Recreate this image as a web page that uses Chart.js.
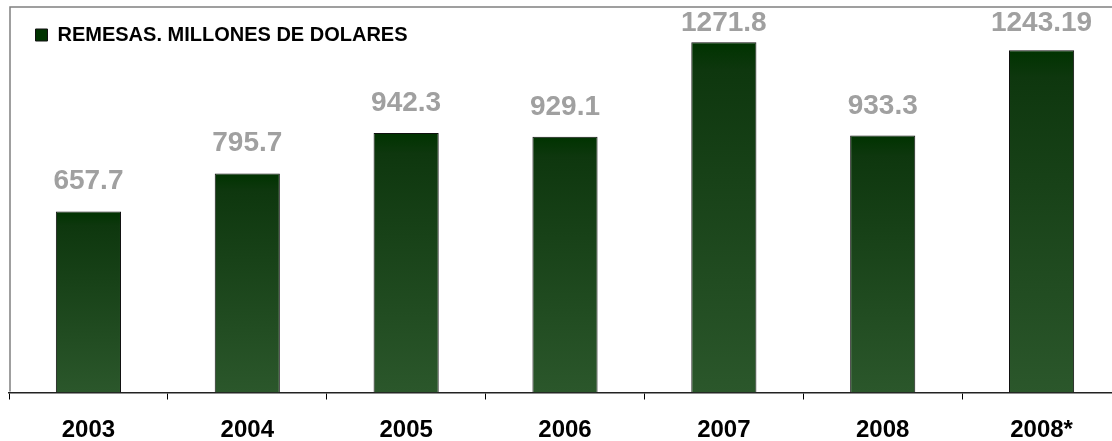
<!DOCTYPE html>
<html>
<head>
<meta charset="utf-8">
<script src="https://cdn.jsdelivr.net/npm/chart.js@4.4.1/dist/chart.umd.min.js"></script>
<style>
  html, body { margin: 0; padding: 0; background: #fff; overflow: hidden; }
  #wrap { position: relative; width: 1121px; height: 441px; }
</style>
</head>
<body>
<div id="wrap"><canvas id="c"></canvas></div>
<script>
const categories = ['2003', '2004', '2005', '2006', '2007', '2008', '2008*'];
const remesas = [657.7, 795.7, 942.3, 929.1, 1271.8, 933.3, 1243.19];
const valueLabels = ['657.7', '795.7', '942.3', '929.1', '1271.8', '933.3', '1243.19'];
const seriesName = 'REMESAS. MILLONES DE DOLARES';
const yMax = 1400;

const FONT = '"Liberation Sans", Arial, sans-serif';

function barFill(c) {
  const flat = '#1e4a1e';
  if (c.type !== 'data') return flat;
  const ch = c.chart, y = ch.scales && ch.scales.y;
  if (!y || !ch.chartArea) return flat;
  const top = y.getPixelForValue(c.raw);
  const base = y.getPixelForValue(0);
  if (!isFinite(top) || !isFinite(base) || top === base) return flat;
  const g = ch.ctx.createLinearGradient(0, top, 0, base);
  g.addColorStop(0, '#003300');
  g.addColorStop(0.08, '#0e370e');
  g.addColorStop(1, '#2b572b');
  return g;
}

const legendShift = {
  id: 'legendShift',
  afterLayout(chart) {
    if (chart.legend) {
      chart.legend.left += 9.5;
      chart.legend.right += 9.5;
      chart.legend.top += 8;
      chart.legend.bottom += 8;
    }
  }
};

const framePlugin = {
  id: 'frame',
  afterDraw(chart) {
    const a = chart.chartArea, ctx = chart.ctx;
    ctx.save();
    ctx.strokeStyle = '#808080';
    ctx.lineWidth = 1.5;
    ctx.beginPath();
    ctx.moveTo(a.left + 1, a.bottom - 1);
    ctx.lineTo(a.left + 1, a.top);
    ctx.lineTo(chart.width, a.top);
    ctx.stroke();
    ctx.restore();
  }
};

const valueLabelPlugin = {
  id: 'valueLabels',
  afterDatasetsDraw(chart) {
    const ctx = chart.ctx, a = chart.chartArea;
    const meta = chart.getDatasetMeta(0);
    ctx.save();
    ctx.font = 'bold 28px ' + FONT;
    ctx.fillStyle = '#a0a0a0';
    ctx.textAlign = 'center';
    ctx.textBaseline = 'alphabetic';
    meta.data.forEach((bar, i) => {
      const y = Math.max(bar.y - 22, a.top + 24);
      ctx.fillText(valueLabels[i], bar.x, y);
    });
    ctx.restore();
  }
};

new Chart(document.getElementById('c'), {
  type: 'bar',
  data: {
    labels: categories,
    datasets: [{
      label: seriesName,
      data: remesas,
      backgroundColor: barFill,
      borderColor: '#111',
      borderWidth: 1,
      categoryPercentage: 1,
      barPercentage: 0.41
    }]
  },
  options: {
    responsive: true,
    maintainAspectRatio: false,
    animation: false,
    layout: { padding: { left: 9, right: 0, top: 7, bottom: 0 } },
    plugins: {
      legend: {
        position: 'chartArea',
        align: 'start',
        labels: {
          boxWidth: 12,
          boxHeight: 12,
          padding: 17,
          color: '#000',
          font: { family: FONT, size: 20, weight: 'bold' }
        }
      },
      tooltip: { enabled: false }
    },
    scales: {
      x: {
        grid: { offset: true, drawOnChartArea: false, drawTicks: true, tickLength: 7, color: '#000', lineWidth: 1 },
        border: { color: '#222', width: 1.5 },
        ticks: { color: '#000', padding: 16, font: { family: FONT, size: 24, weight: 'bold' } },
        afterFit(s) { s.height = 48.5; }
      },
      y: {
        display: false,
        min: 0,
        max: yMax
      }
    }
  },
  plugins: [legendShift, framePlugin, valueLabelPlugin]
});
</script>
</body>
</html>
